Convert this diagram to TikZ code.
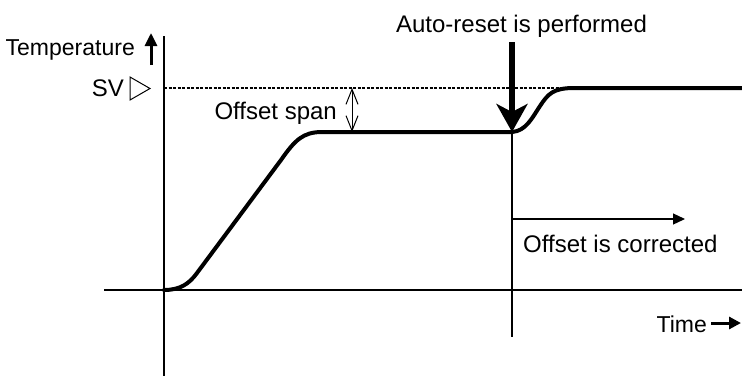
\documentclass[tikz,border=0pt]{standalone}
\usepackage{fontspec}
\setmainfont{Liberation Sans}
\usetikzlibrary{arrows.meta}
\begin{document}
\begin{tikzpicture}[x=1pt,y=-1pt,
    axis/.style={line width=1.8pt},
    thin line/.style={line width=1.2pt},
    response/.style={line width=4pt, line cap=round, line join=round},
    lbl/.style={inner sep=0pt, font=\fontsize{24}{28}\selectfont},
    small lbl/.style={inner sep=0pt, font=\fontsize{23}{27}\selectfont}]
  \useasboundingbox (0,0) rectangle (742,376);
  % Key points of the chart
  \coordinate (origin) at (164,290);
  \coordinate (yaxis top) at (164,36);
  \coordinate (yaxis bottom) at (164,376);
  \coordinate (xaxis left) at (104,290);
  \coordinate (xaxis right) at (742,290);
  \coordinate (sv left) at (164,88);
  \coordinate (sv right) at (580,88);
  \coordinate (reset) at (512,132);
  \coordinate (reset top) at (512,42);
  \coordinate (reset bottom) at (512,337);
  \coordinate (span top) at (352,88);
  \coordinate (span bottom) at (352,132);
  \coordinate (corr start) at (512,219);
  \coordinate (corr end) at (685,219);
  \coordinate (temp start) at (151,65);
  \coordinate (temp end) at (151,33);
  \coordinate (time start) at (711,323);
  \coordinate (time end) at (741,323);

  % Axes
  \draw [axis] (yaxis top) -- (yaxis bottom);
  \draw [axis] (xaxis left) -- (xaxis right);

  % Set value line and its marker
  \draw [thin line, dash pattern=on 3pt off 1.5pt] (sv left) -- (sv right);
  \draw [line width=1pt] (130,77) -- (150,88.5) -- (130,100) -- cycle;

  % Temperature response
  \draw [response] (origin) .. controls (180,290) and (189,284) .. (197,273)
    -- (281,160) .. controls (295,140) and (303,132) .. (322,132)
    -- (reset) .. controls (526,131) and (532,118) .. (540,106)
    .. controls (548,94) and (553,88) .. (574,88) -- (742,88);

  % Markers and arrows
  \draw [thin line] (reset) -- (reset bottom);
  \draw [line width=6pt, -{Stealth[length=28pt,width=31pt,inset=8pt]}]
    (reset top) -- (reset);
  \draw [line width=1pt, {Straight Barb[length=15pt,width=12pt]}-{Straight Barb[length=15pt,width=12pt]}]
    (span top) -- (span bottom);
  \draw [thin line, -{Triangle[length=12pt,width=11pt]}] (corr start) -- (corr end);
  \draw [line width=3pt, -{Triangle[length=13pt,width=12pt]}] (temp start) -- (temp end);
  \draw [line width=3pt, -{Triangle[length=12pt,width=12pt]}] (time start) -- (time end);

  % Labels
  \node [small lbl, anchor=base east] (temp) at (135,55) {Temperature};
  \node [lbl, anchor=base east] (sv) at (124,96) {SV};
  \node [lbl, anchor=base east] (span) at (337,119) {Offset span};
  \node [lbl, anchor=base] (auto) at (521.5,32) {Auto-reset is performed};
  \node [lbl, anchor=base west] (corr) at (523,252) {Offset is corrected};
  \node [small lbl, anchor=base east] (time) at (707,332) {Time};
\end{tikzpicture}
\end{document}
